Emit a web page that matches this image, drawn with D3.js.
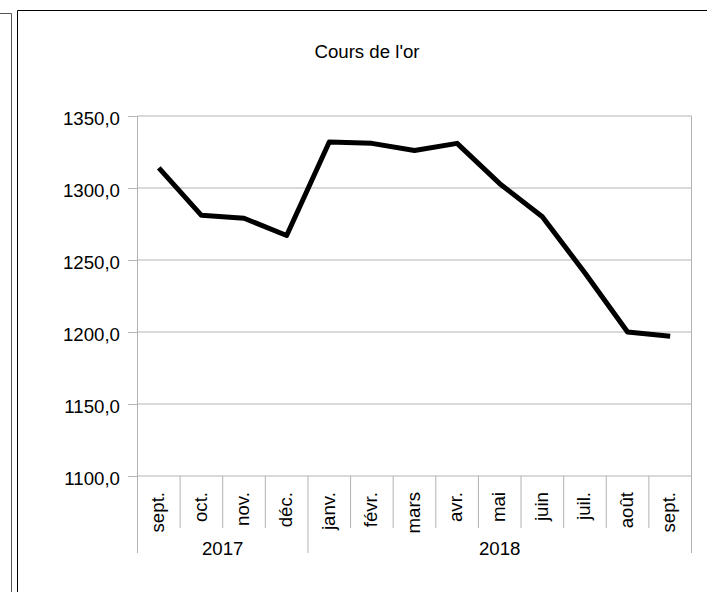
<!DOCTYPE html>
<html>
<head>
<meta charset="utf-8">
<script src="https://cdn.jsdelivr.net/npm/d3@7"></script>
<style>
  html, body { margin: 0; padding: 0; background: #fff; }
  svg { display: block; font-family: 'Liberation Sans', Arial, sans-serif; }
</style>
</head>
<body>
<svg id="chart"></svg>
<script>
const width = 707
const height = 592

// data
const months = ['sept.', 'oct.', 'nov.', 'déc.', 'janv.', 'févr.', 'mars', 'avr.', 'mai', 'juin', 'juil.', 'août', 'sept.']
const prices = [1314, 1281, 1279, 1267, 1332, 1331, 1326, 1331, 1303, 1280, 1241, 1200, 1197]
const yearLabels = ['2017', '2018']
const yearSpans = [4, 9] // number of months under each year
const yDomain = [1100, 1350]
const title = "Cours de l'or"

const plot = { left: 137.5, right: 691.5, top: 116, bottom: 476 }
const grid = '#b3b3b3'
const fontSize = '18.67px'

const svg = d3.select('#chart').attr('width', width).attr('height', height)

// outer frames
svg.append('path')
  .attr('d', `M0,13.5H11.5V${height}`)
  .attr('fill', 'none')
  .attr('stroke', '#555')
svg.append('path')
  .attr('d', `M17.5,${height}V10.5H${width}`)
  .attr('fill', 'none')
  .attr('stroke', '#000')

svg.append('text')
  .attr('x', 367)
  .attr('y', 58)
  .attr('text-anchor', 'middle')
  .style('font-size', fontSize)
  .text(title)

const x = d3.scaleBand()
  .domain(d3.range(months.length))
  .range([plot.left, plot.right])

const y = d3.scaleLinear()
  .domain(yDomain)
  .range([plot.bottom, plot.top])

const fr = d3.formatLocale({ decimal: ',', thousands: ' ', grouping: [3], currency: ['', ''] })
const fmt = fr.format('.1f')

// horizontal grid
svg.append('g')
  .selectAll('line')
  .data(y.ticks(5))
  .join('line')
  .attr('x1', plot.left)
  .attr('x2', plot.right)
  .attr('y1', (d) => y(d))
  .attr('y2', (d) => y(d))
  .attr('stroke', grid)

// right border of plot
svg.append('line')
  .attr('x1', plot.right).attr('x2', plot.right)
  .attr('y1', plot.top).attr('y2', plot.bottom)
  .attr('stroke', grid)

// y axis
const yAxis = svg.append('g')
  .attr('transform', `translate(${plot.left},0)`)
  .call(d3.axisLeft(y).ticks(5).tickSize(9.5).tickPadding(8).tickFormat(fmt))
yAxis.select('.domain').remove()
yAxis.selectAll('.tick line').attr('stroke', grid)
yAxis.selectAll('.tick text')
  .attr('dy', '0.43em')
  .attr('fill', '#000')
  .style('font-size', fontSize)
  .style('font-family', "'Liberation Sans', Arial, sans-serif")

// left axis line, runs down through the category labels
svg.append('line')
  .attr('x1', plot.left).attr('x2', plot.left)
  .attr('y1', plot.top).attr('y2', 553)
  .attr('stroke', grid)

// month separators and year separators
const yearBounds = d3.cumsum(yearSpans)
const seps = d3.range(1, months.length + 1)
svg.append('g')
  .selectAll('line')
  .data(seps)
  .join('line')
  .attr('x1', (i) => (i < months.length ? x(i) : plot.right))
  .attr('x2', (i) => (i < months.length ? x(i) : plot.right))
  .attr('y1', plot.bottom)
  .attr('y2', (i) => (yearBounds.includes(i) ? 553 : 528))
  .attr('stroke', grid)

// month labels
svg.append('g')
  .selectAll('text')
  .data(months)
  .join('text')
  .attr('transform', (d, i) => `translate(${x(i) + x.bandwidth() / 2},492) rotate(-90)`)
  .attr('dy', '0.28em')
  .attr('text-anchor', 'end')
  .style('font-size', fontSize)
  .text((d) => d)

// year labels
svg.append('g')
  .selectAll('text')
  .data(yearLabels)
  .join('text')
  .attr('x', (d, i) => {
    const a = i === 0 ? 0 : yearBounds[i - 1]
    const b = yearBounds[i]
    const x0 = x(a)
    const x1 = b < months.length ? x(b) : plot.right
    return (x0 + x1) / 2
  })
  .attr('y', 555)
  .attr('text-anchor', 'middle')
  .style('font-size', fontSize)
  .text((d) => d)

// price line
const line = d3.line()
  .x((d, i) => x(i) + x.bandwidth() / 2)
  .y((d) => y(d))

svg.append('path')
  .datum(prices)
  .attr('d', line)
  .attr('fill', 'none')
  .attr('stroke', '#000')
  .attr('stroke-width', 5)
  .attr('stroke-linejoin', 'round')
</script>
</body>
</html>
